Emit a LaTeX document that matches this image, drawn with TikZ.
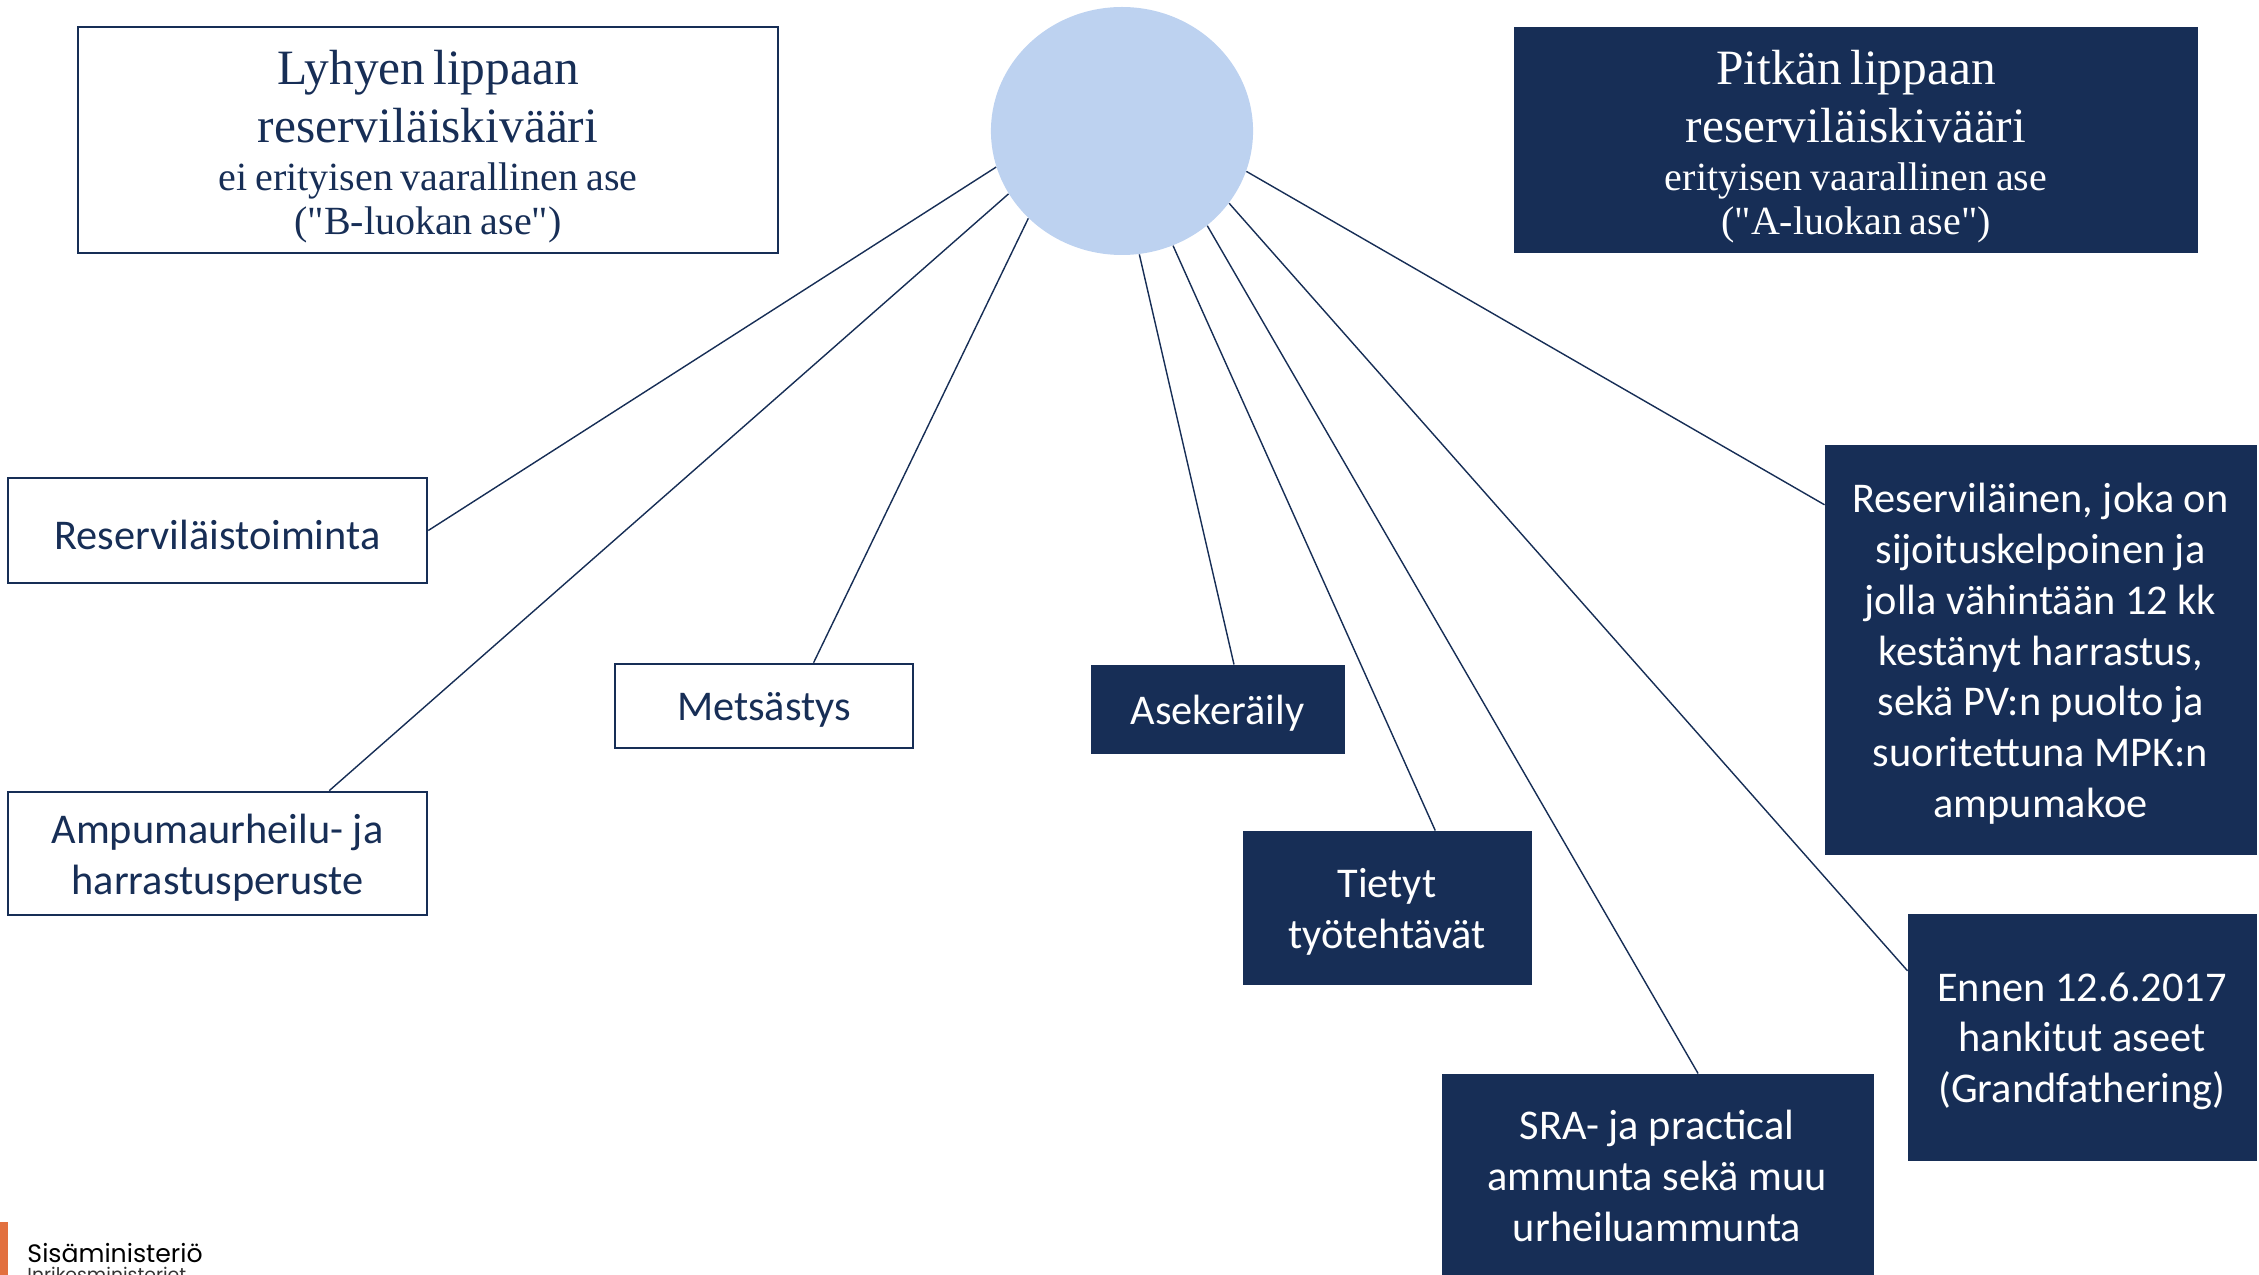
\documentclass[tikz,border=0pt]{standalone}
\usepackage{fontspec}
\setmainfont{Carlito}
\newfontfamily\titlefont{Liberation Serif}
\newfontfamily\logofont{Poppins}
\usetikzlibrary{shapes.geometric,fit,calc}
\definecolor{navy}{HTML}{172E56}
\definecolor{lightblue}{HTML}{BDD2F0}
\definecolor{logoorange}{HTML}{E2703F}
\tikzset{
  openbox/.style={draw=navy, line width=1.1pt, fill=white, inner sep=0pt},
  filledbox/.style={draw=navy, line width=0.4pt, fill=navy, inner sep=0pt},
  boxtext/.style={inner sep=0pt, align=center, yshift=-1.8pt, font=\fontsize{18}{21.6}\selectfont},
  headtext/.style={inner sep=0pt, text width=290pt, align=center, yshift=-3pt, font=\titlefont},
  link/.style={draw=navy, line width=0.6pt},
}
\newcommand{\hdtext}[4]{{\fontsize{21}{24.5}\selectfont #1\\#2\par}\vspace{1.2pt}{\fontsize{17}{19}\selectfont #3\\#4\par}}
\begin{document}
\begin{tikzpicture}[x=0.425pt,y=-0.425pt]
\useasboundingbox (0,0) rectangle (2259,1275);
% header boxes
\node[draw=navy, line width=1.1pt, inner sep=0pt, fit={(78,27) (778,253)}] (lyhyt) {};
\node[headtext, text=navy] (lyhytt) at (lyhyt.center) {\hdtext{Lyhyen lippaan}{reserviläiskivääri}{ei erityisen vaarallinen ase}{("B-luokan ase")}};
\node[fill=navy, inner sep=0pt, fit={(1514,27) (2198,253)}] (pitka) {};
\node[headtext, text=white] (pitkat) at (pitka.center) {\hdtext{Pitkän lippaan}{reserviläiskivääri}{erityisen vaarallinen ase}{("A-luokan ase")}};
% central circle
\node[ellipse, fill=lightblue, inner sep=0pt, minimum width=111.4pt, minimum height=105.4pt] (circ) at (1122,131) {};
% category boxes
\node[openbox, fit={(8,478) (427,583)}] (resv) {};
\node[boxtext, text=navy] (resvt) at (resv.center) {Reserviläistoiminta};
\node[openbox, fit={(8,792) (427,915)}] (ampu) {};
\node[boxtext, text=navy] (ampot) at (ampu.center) {Ampumaurheilu- ja\\harrastusperuste};
\node[openbox, fit={(615,664) (913,748)}] (mets) {};
\node[boxtext, text=navy] (metst) at (mets.center) {Metsästys};
\node[filledbox, fit={(1091,665) (1344,753)}] (asek) {};
\node[boxtext, text=white] (asekt) at (asek.center) {Asekeräily};
\node[filledbox, fit={(1243,831) (1531,984)}] (tyo) {};
\node[boxtext, text=white] (tyot) at (tyo.center) {Tietyt\\työtehtävät};
\node[filledbox, fit={(1442,1074) (1873,1276)}] (sra) {};
\node[boxtext, text=white] (srat) at (1657,1172) {SRA- ja practical\\ammunta sekä muu\\urheiluammunta};
\node[filledbox, fit={(1908,914) (2256,1160)}] (ennen) {};
\node[boxtext, text=white] (ennent) at (ennen.center) {Ennen 12.6.2017\\hankitut aseet\\(Grandfathering)};
\node[filledbox, fit={(1825,445) (2256,854)}] (resk) {};
\node[boxtext, text=white] (reskt) at (resk.center) {Reserviläinen, joka on\\sijoituskelpoinen ja\\jolla vähintään 12 kk\\kestänyt harrastus,\\sekä PV:n puolto ja\\suoritettuna MPK:n\\ampumakoe};
% connectors
\draw[link] (circ.196.9) -- (resv.east);
\draw[link] (circ.209.7) -- ($(ampu.north west)!0.765!(ampu.north east)$);
\draw[link] (circ.223.7) -- ($(mets.north west)!0.665!(mets.north east)$);
\draw[link] (circ.278.3) -- ($(asek.north west)!0.565!(asek.north east)$);
\draw[link] (circ.294.5) -- ($(tyo.north west)!0.667!(tyo.north east)$);
\draw[link] (circ.312.8) -- ($(sra.north west)!0.594!(sra.north east)$);
\draw[link] (circ.326.4) -- ($(ennen.north west)!0.232!(ennen.south west)$);
\draw[link] (circ.342) -- ($(resk.north west)!0.147!(resk.south west)$);
% logo
\fill[logoorange] (0,1222) rectangle (8,1276);
\node[anchor=base west, inner sep=0pt, font=\logofont\fontsize{10.7}{12}\selectfont] (logo) at (27,1262) {Sisäministeriö};
\node[anchor=base west, inner sep=0pt, font=\logofont\fontsize{8}{10}\selectfont, text=black!80] (logo2) at (27,1282) {Inrikesministeriet};
\end{tikzpicture}
\end{document}
